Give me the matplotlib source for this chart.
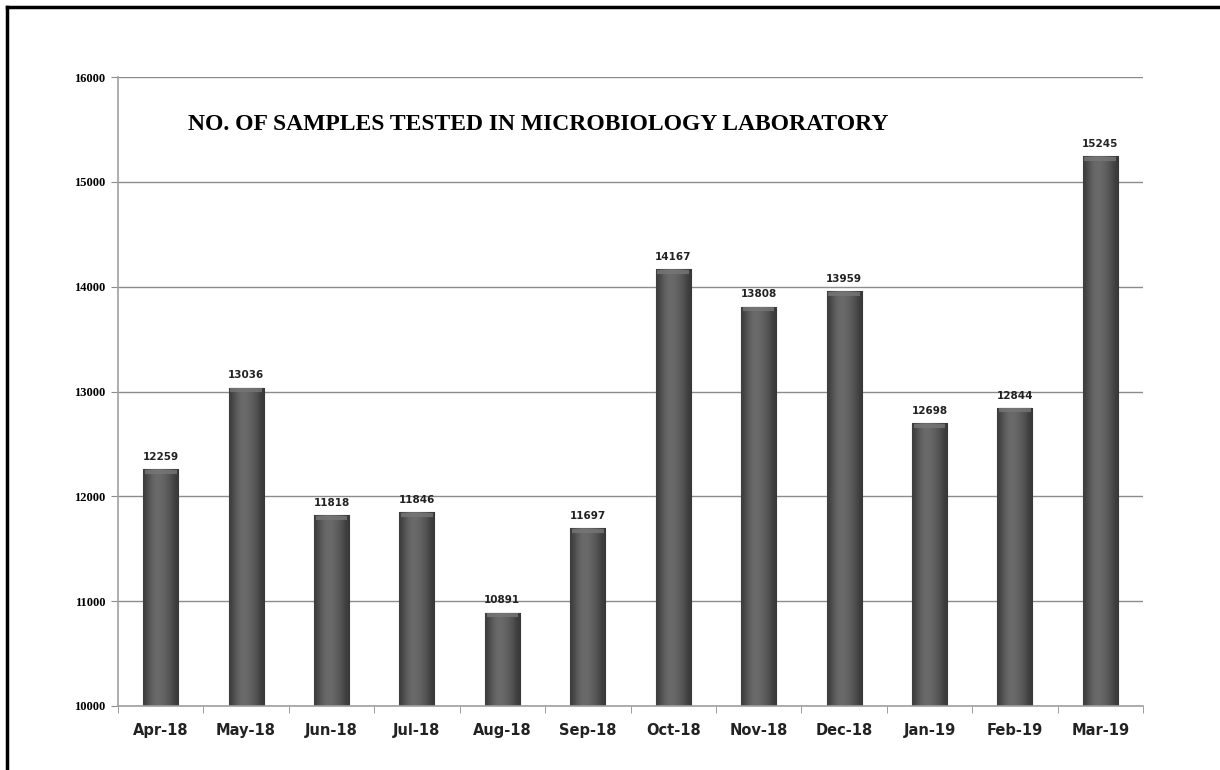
import matplotlib
matplotlib.use("Agg")
import matplotlib.pyplot as plt
import numpy as np
from matplotlib.lines import Line2D

months = ["Apr-18", "May-18", "Jun-18", "Jul-18", "Aug-18", "Sep-18",
          "Oct-18", "Nov-18", "Dec-18", "Jan-19", "Feb-19", "Mar-19"]
samples = [12259, 13036, 11818, 11846, 10891, 11697,
           14167, 13808, 13959, 12698, 12844, 15245]
yticks = [10000, 11000, 12000, 13000, 14000, 15000, 16000]
title = "NO. OF SAMPLES TESTED IN MICROBIOLOGY LABORATORY"

fig = plt.figure(figsize=(12.2, 7.7), dpi=100)
ax = fig.add_axes([118/1220, 64/770, 1025/1220, 629/770])

x = np.arange(len(months))
bars = ax.bar(x, samples, width=0.41, color="#555555", edgecolor="#383838",
              linewidth=0.8, zorder=2)

# cylinder-like gradient fill
grad = np.array([[0.24, 0.33, 0.39, 0.42, 0.41, 0.38, 0.34, 0.28, 0.22]])
for b in bars:
    x0, w, h = b.get_x(), b.get_width(), b.get_height()
    im = ax.imshow(grad, cmap="gray", vmin=0, vmax=1, aspect="auto",
                   extent=[x0, x0 + w, 10000, h], zorder=2.5,
                   interpolation="bicubic")
    im.set_clip_path(b)
    ax.plot([x0 + 0.02, x0 + w - 0.02], [h - 25, h - 25], color="#777777", lw=3.0,
            zorder=3, solid_capstyle="butt", alpha=0.8)

ax.set_xlim(-0.5, len(months) - 0.5)
ax.set_ylim(10000, 16000)
ax.set_yticks(yticks)
ax.set_yticklabels([str(v) for v in yticks], fontsize=9, fontweight="bold",
                   family="Liberation Serif")
ax.yaxis.grid(True, color="#8c8c8c", lw=1.0, zorder=0)
ax.set_axisbelow(True)

ax.set_xticks(x)
ax.set_xticklabels(months, fontsize=10.5, fontweight="bold", color="#222222")
ax.set_xticks(np.arange(-0.5, len(months) + 0.5, 1), minor=True)
ax.tick_params(axis="x", which="major", length=0, pad=12)
ax.tick_params(axis="x", which="minor", length=5, color="#8c8c8c", direction="out")
ax.tick_params(axis="y", length=5, color="#8c8c8c", pad=4)

for s in ["top", "right"]:
    ax.spines[s].set_visible(False)
for s in ["left", "bottom"]:
    ax.spines[s].set_color("#a0a0a0")
    ax.spines[s].set_linewidth(1.2)

for xi, v in zip(x, samples):
    ax.text(xi, v + 70, str(v), ha="center", va="bottom", fontsize=7.5,
            fontweight="bold", color="#222222")

fig.text(188/1220, 1 - 125/770, title, ha="left", va="center",
         fontsize=17, fontweight="bold", family="Liberation Serif")

# outer frame
fig.add_artist(Line2D([7/1220, 7/1220], [0, 1 - 7/770], transform=fig.transFigure,
                      color="black", lw=2.5))
fig.add_artist(Line2D([7/1220, 1], [1 - 7/770, 1 - 7/770], transform=fig.transFigure,
                      color="black", lw=2.5))

fig.savefig("out.png", dpi=100)
